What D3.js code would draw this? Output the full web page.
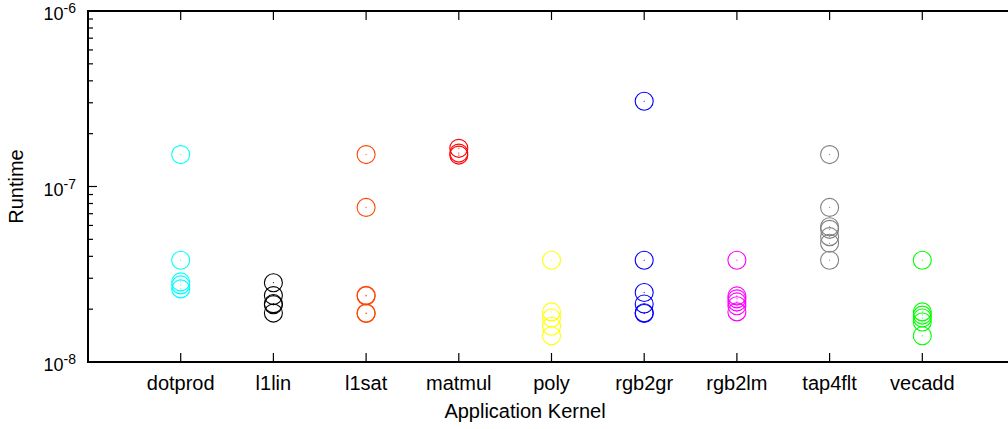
<!DOCTYPE html>
<html lang="en">
<head>
    <meta charset="UTF-8">
    <title>Runtime per Application Kernel</title>
    <script src="https://d3js.org/d3.v7.min.js"></script>
    <style>
        body {
            margin: 0;
            background-color: #ffffff;
            font-family: "Liberation Sans", Arial, sans-serif;
        }

        svg {
            display: block;
        }

        .tick-label {
            font-size: 20px;
            fill: #000;
        }

        .y-label {
            font-size: 18px;
            fill: #000;
        }

        .axis-title {
            font-size: 20px;
            fill: #000;
        }

        .frame {
            fill: none;
            stroke: #000;
            stroke-width: 2px;
        }

        .tick {
            stroke: #000;
            stroke-width: 1.2px;
        }

        .pt {
            fill: none;
            stroke-width: 1.1px;
        }
    </style>
</head>
<body>
<svg width="1008" height="429"></svg>
<script>
    // kernels on the x axis, in plotting order
    const kernels = ["dotprod", "l1lin", "l1sat", "matmul", "poly", "rgb2gr", "rgb2lm", "tap4flt", "vecadd"];

    const kernelColors = ["#00ffff", "#000000", "#ff4500", "#ff0000", "#ffff00", "#0000ff", "#ff00ff", "#808080", "#00ff00"];

    // measured runtimes (seconds), one list per kernel
    const dotprodRuns = [1.52e-7, 3.8e-8, 2.86e-8, 2.75e-8, 2.61e-8];
    const l1linRuns   = [2.83e-8, 2.39e-8, 2.15e-8, 2.12e-8, 1.9e-8];
    const l1satRuns   = [1.52e-7, 7.6e-8, 2.4e-8, 2.38e-8, 1.9e-8, 1.89e-8];
    const matmulRuns  = [1.65e-7, 1.55e-7, 1.51e-7];
    const polyRuns    = [3.8e-8, 1.93e-8, 1.78e-8, 1.6e-8, 1.41e-8];
    const rgb2grRuns  = [3.06e-7, 3.8e-8, 2.49e-8, 2.14e-8, 1.91e-8, 1.89e-8];
    const rgb2lmRuns  = [3.8e-8, 2.38e-8, 2.29e-8, 2.2e-8, 2.09e-8, 1.93e-8];
    const tap4fltRuns = [1.52e-7, 7.6e-8, 5.9e-8, 5.7e-8, 5.18e-8, 4.75e-8, 3.8e-8];
    const vecaddRuns  = [3.8e-8, 1.93e-8, 1.85e-8, 1.78e-8, 1.69e-8, 1.41e-8];

    const runtimes = [dotprodRuns, l1linRuns, l1satRuns, matmulRuns, polyRuns,
        rgb2grRuns, rgb2lmRuns, tap4fltRuns, vecaddRuns];

    // y axis decades
    const yExponents = [-8, -7, -6];

    const svg = d3.select("svg"),
        margin = {top: 11, left: 88, bottom: 67},
        height = +svg.attr("height") - margin.top - margin.bottom;

    // kernel i sits at position i+1 of a 0..10 axis, the right end falls off the canvas
    const x = d3.scaleLinear().domain([0, kernels.length + 1]).range([margin.left, margin.left + 927]);
    const y = d3.scaleLog().domain([1e-8, 1e-6]).range([margin.top + height, margin.top]);

    const x0 = x.range()[0], x1 = x.range()[1];
    const yTop = y.range()[1], yBot = y.range()[0];

    // frame
    svg.append("rect")
        .attr("class", "frame")
        .attr("x", x0)
        .attr("y", yTop)
        .attr("width", x1 - x0)
        .attr("height", yBot - yTop);

    // y ticks: majors with labels, minors 2..9
    yExponents.forEach(e => {
        const v = Math.pow(10, e);
        svg.append("line").attr("class", "tick")
            .attr("x1", x0).attr("x2", x0 + 9)
            .attr("y1", y(v)).attr("y2", y(v));
        const t = svg.append("text")
            .attr("class", "y-label")
            .attr("x", 76)
            .attr("y", y(v) + 9)
            .attr("text-anchor", "end");
        t.append("tspan").text("10");
        t.append("tspan").attr("dy", -7).style("font-size", "14px").text(e);
        if (e < -6) {
            for (let m = 2; m <= 9; m++) {
                svg.append("line").attr("class", "tick")
                    .attr("x1", x0).attr("x2", x0 + 5)
                    .attr("y1", y(m * v)).attr("y2", y(m * v));
            }
        }
    });

    // x ticks (bottom and top) with labels
    kernels.forEach((k, i) => {
        const xp = x(i + 1);
        svg.append("line").attr("class", "tick")
            .attr("x1", xp).attr("x2", xp)
            .attr("y1", yBot).attr("y2", yBot - 9);
        svg.append("line").attr("class", "tick")
            .attr("x1", xp).attr("x2", xp)
            .attr("y1", yTop).attr("y2", yTop + 9);
        svg.append("text")
            .attr("class", "tick-label")
            .attr("x", xp)
            .attr("y", 390)
            .attr("text-anchor", "middle")
            .text(k);
    });

    // axis titles
    svg.append("text")
        .attr("class", "axis-title")
        .attr("x", 525)
        .attr("y", 418)
        .attr("text-anchor", "middle")
        .text("Application Kernel");

    svg.append("text")
        .attr("class", "axis-title")
        .attr("transform", `translate(23,${(yTop + yBot) / 2}) rotate(-90)`)
        .attr("text-anchor", "middle")
        .text("Runtime");

    // points: open circle with a dot in the middle
    runtimes.forEach((runs, i) => {
        const g = svg.append("g");
        g.selectAll("circle.pt")
            .data(runs)
            .join("circle")
            .attr("class", "pt")
            .attr("cx", x(i + 1))
            .attr("cy", d => y(d))
            .attr("r", 9)
            .style("stroke", kernelColors[i]);
        g.selectAll("rect.dot")
            .data(runs)
            .join("rect")
            .attr("class", "dot")
            .attr("x", x(i + 1) - 0.5)
            .attr("y", d => y(d) - 0.5)
            .attr("width", 1)
            .attr("height", 1)
            .style("fill", kernelColors[i]);
    });
</script>
</body>
</html>
